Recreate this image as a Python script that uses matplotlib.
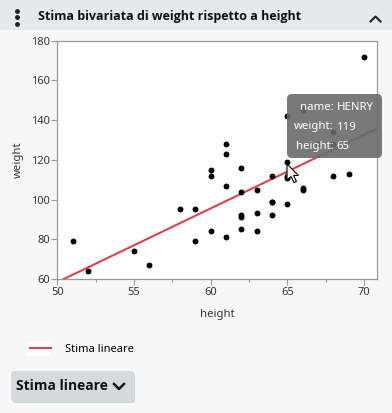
import matplotlib
matplotlib.use("Agg")
import matplotlib.pyplot as plt
from matplotlib.patches import Rectangle, FancyBboxPatch, Polygon
from matplotlib.lines import Line2D
from matplotlib.ticker import MultipleLocator
import numpy as np

# dati (Big Class): altezza e peso
names = ["KATIE", "LOUISE", "JANE", "JACLYN", "LILLIE", "TIM", "JAMES", "ROBERT",
         "BARBARA", "ALICE", "SUSAN", "JOHN", "JOE", "MICHAEL", "DAVID", "JUDY",
         "ELIZABETH", "LESLIE", "CAROL", "PATTY", "FREDERICK", "ALFRED", "HENRY",
         "LEWIS", "EDWARD", "CHRIS", "JEFFREY", "MARY", "AMY", "ROBERT", "WILLIAM",
         "CLAY", "MARK", "DANNY", "MARTHA", "MARION", "PHILLIP", "LINDA", "KIRK",
         "LAWRENCE"]
height = [59, 61, 55, 66, 52, 60, 61, 51, 60, 61, 56, 65, 63, 58, 59, 61, 62, 65,
          63, 62, 63, 64, 65, 64, 68, 64, 69, 62, 64, 67, 65, 66, 62, 66, 65, 60,
          68, 62, 68, 70]
weight = [95, 123, 74, 145, 64, 84, 128, 79, 112, 107, 67, 98, 105, 95, 79, 81,
          91, 142, 84, 85, 93, 99, 119, 92, 112, 99, 113, 92, 112, 128, 111, 105,
          104, 106, 112, 115, 134, 116, 128, 172]
hover = "HENRY"

W, H = 392, 413
fig = plt.figure(figsize=(W / 100, H / 100), dpi=100)
fig.patch.set_facecolor("#f7f7f7")
font = "Noto Sans"
bold_font = ["Open Sans", "Liberation Sans", "DejaVu Sans"]


def fx(px):
    return px / W


def fy(py):
    return 1 - py / H


# -----------------------------
# intestazione del pannello
# -----------------------------
fig.patches.append(Rectangle((0, fy(30)), 1, 30 / H, transform=fig.transFigure,
                             facecolor="#e6e9ec", edgecolor="none", zorder=0))
for py in (10.5, 17, 23.5):
    fig.add_artist(Line2D([fx(17)], [fy(py)], marker="o", markersize=2.5,
                          color="#222222", transform=fig.transFigure))
fig.text(fx(38), fy(16.5), "Stima bivariata di weight rispetto a height",
         family=bold_font, weight="bold", fontsize=9.0, va="center", ha="left", color="#111111")
fig.add_artist(Line2D([fx(370.5), fx(375.5), fx(380.5)], [fy(21.5), fy(16.5), fy(21.5)],
                      color="#222222", lw=1.5, transform=fig.transFigure))

# -----------------------------
# grafico
# -----------------------------
ax = fig.add_axes([fx(57.3), fy(279), fx(377) - fx(57.3), fy(40.7) - fy(279)])
ax.set_facecolor("white")
ax.scatter(height, weight, s=18, color="black", zorder=3, linewidths=0)

slope, intercept = np.polyfit(height, weight, 1)
xs = np.array([50, 70.85])
fit_line, = ax.plot(xs, intercept + slope * xs, color="#d9434f", lw=1.5,
                    label="Stima lineare", zorder=2)

ax.set_xlim(50, 70.85)
ax.set_ylim(60, 180)
ax.xaxis.set_major_locator(MultipleLocator(5))
ax.xaxis.set_minor_locator(MultipleLocator(2.5))
ax.yaxis.set_major_locator(MultipleLocator(20))
for s in ax.spines.values():
    s.set_color("#9a9a9a")
    s.set_linewidth(0.9)
ax.tick_params(which="major", length=4, width=0.8, color="#9a9a9a",
               labelsize=8, labelcolor="#333333", pad=1.5)
ax.tick_params(which="minor", length=2.5, width=0.8, color="#9a9a9a")
for lab in ax.get_xticklabels() + ax.get_yticklabels():
    lab.set_family(font)
ax.set_xlabel("height", family=font, fontsize=8.2, color="#333333", labelpad=8.5)
ax.set_ylabel("weight", family=font, fontsize=8.2, color="#333333", labelpad=5)

# -----------------------------
# tooltip sul punto selezionato
# -----------------------------
i = names.index(hover)
fig.patches.append(FancyBboxPatch((fx(287), fy(158)), fx(382) - fx(287), fy(94) - fy(158),
                                  boxstyle="round,pad=0,rounding_size=0.012",
                                  transform=fig.transFigure, facecolor="#6a6a6a",
                                  edgecolor="none", alpha=0.9, zorder=5))
rows = [("name:", names[i]), ("weight:", str(weight[i])), ("height:", str(height[i]))]
for (k, v), py in zip(rows, (107, 127, 146.5)):
    fig.text(fx(333.5), fy(py), k, family=font, fontsize=8.2, color="white",
             ha="right", va="center", zorder=6)
    fig.text(fx(336.5), fy(py), v, family=font, fontsize=8.2, color="white",
             ha="left", va="center", zorder=6)

# puntatore del mouse
cur = np.array([(0, 0), (0, 16), (4, 12.5), (7, 18.5), (9.5, 17.5), (6.5, 11.5), (11.5, 11.5)])
tip = (287, 164)
fig.patches.append(Polygon([(fx(tip[0] + a), fy(tip[1] + b)) for a, b in cur], closed=True,
                           transform=fig.transFigure, facecolor="white",
                           edgecolor="black", lw=0.8, zorder=7))

# -----------------------------
# legenda
# -----------------------------
fig.patches.append(Rectangle((fx(27), fy(356)), fx(50) - fx(27), fy(342) - fy(356),
                             transform=fig.transFigure, facecolor="white",
                             edgecolor="none", zorder=1))
fig.legend(handles=[fit_line], loc="center left", bbox_to_anchor=(fx(20), fy(349)),
           frameon=False, handlelength=1.9, handletextpad=1.25,
           prop={"family": font, "size": 8})

# pulsante
fig.patches.append(FancyBboxPatch((fx(12), fy(403)), fx(135) - fx(12), fy(372) - fy(403),
                                  boxstyle="round,pad=0,rounding_size=0.01",
                                  transform=fig.transFigure, facecolor="#b9bec2",
                                  edgecolor="none", alpha=0.6, zorder=1))
fig.patches.append(FancyBboxPatch((fx(11), fy(402)), fx(134) - fx(11), fy(371) - fy(402),
                                  boxstyle="round,pad=0,rounding_size=0.01",
                                  transform=fig.transFigure, facecolor="#d5dadd",
                                  edgecolor="none", zorder=2))
fig.text(fx(16), fy(386.5), "Stima lineare", family=bold_font, weight="bold", fontsize=9.9,
         ha="left", va="center", color="#111111", zorder=3)
fig.add_artist(Line2D([fx(114), fx(119), fx(124)], [fy(384), fy(389), fy(384)],
                      color="#111111", lw=1.8, transform=fig.transFigure, zorder=3))

fig.savefig("out.png", dpi=100, facecolor=fig.get_facecolor())
